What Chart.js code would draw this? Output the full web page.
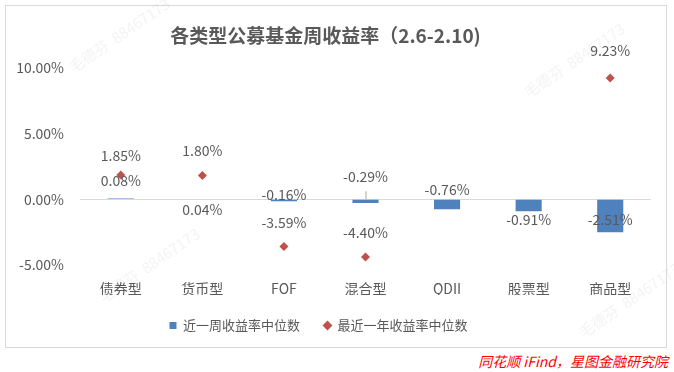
<!DOCTYPE html>
<html>
<head>
<meta charset="utf-8">
<script src="https://cdn.jsdelivr.net/npm/chart.js@4.4.1/dist/chart.umd.min.js"></script>
<style>
  body { margin: 0; background: #fff; width: 674px; height: 372px; position: relative; overflow: hidden; }
  #box { position: absolute; left: 5px; top: 5px; width: 662px; height: 343px; border: 1px solid #d9d9d9; box-sizing: border-box; }
  #wrap { position: absolute; left: 0; top: 0; width: 674px; height: 350px; }
  #src { position: absolute; right: 6px; top: 351px; color: #ff0000; font-style: italic; font-size: 14px;
         font-family: "Noto Sans CJK SC", sans-serif; line-height: 20px; }
</style>
</head>
<body>
<div id="box"></div>
<div id="wrap"><canvas id="fundChart"></canvas></div>
<div id="src">同花顺 iFind，星图金融研究院</div>
<script>
// 各类型公募基金周收益率 (2.6-2.10)
var categories = ['债券型', '货币型', 'FOF', '混合型', 'QDII', '股票型', '商品型'];
var weekMedian = [0.08, 0.04, -0.16, -0.29, -0.76, -0.91, -2.51];   // 近一周收益率中位数
var yearMedian = [1.85, 1.80, -3.59, -4.40, null, null, 9.23];     // 最近一年收益率中位数
var yTicks = [-5, 0, 5, 10];

// label offsets (px, from the mark's end) as placed in the original
var weekLabelDy = [-18, 11, -7, -26, -20, 8, -13];
var yearLabelDy = [-19, -25, -24, -24, 0, 0, -27];

var textColor = '#595959';
var font = '"Noto Sans CJK SC", "Noto Sans", sans-serif';

function pct(v) { return v.toFixed(2) + '%'; }

var watermark = {
    id: 'watermark',
    beforeDraw: function (chart) {
        var c = chart.ctx;
        var spots = [[120, 35], [575, 60], [150, 265], [630, 300]];
        c.save();
        c.fillStyle = 'rgba(150,150,150,0.11)';
        c.font = '15px ' + font;
        spots.forEach(function (p) {
            c.save();
            c.translate(p[0], p[1]);
            c.rotate(-0.6);
            c.fillText('毛德芬  88467173', -60, 0);
            c.restore();
        });
        c.restore();
    }
};

// nudge the legend a little left, like the original
var legendShift = {
    id: 'legendShift',
    afterLayout: function (chart) {
        chart.legend.left -= 7;
        chart.legend.right -= 7;
    }
};

var valueLabels = {
    id: 'valueLabels',
    afterDatasetsDraw: function (chart) {
        var c = chart.ctx;
        c.save();
        c.font = '14px ' + font;
        c.fillStyle = textColor;
        c.textAlign = 'center';
        c.textBaseline = 'middle';
        var zeroY = chart.scales.y.getPixelForValue(0);
        chart.getDatasetMeta(0).data.forEach(function (el, i) {
            var y = el.y + weekLabelDy[i];
            // leader line when the label floats away from a negative bar
            if (weekMedian[i] < 0 && zeroY - (y + 7) > 8) {
                c.strokeStyle = '#a6a6a6';
                c.lineWidth = 1;
                c.beginPath();
                c.moveTo(el.x + 0.5, zeroY - 8);
                c.lineTo(el.x + 0.5, zeroY);
                c.stroke();
            }
            c.fillText(pct(weekMedian[i]), el.x, y);
        });
        chart.getDatasetMeta(1).data.forEach(function (el, i) {
            if (yearMedian[i] === null) return;
            c.fillText(pct(yearMedian[i]), el.x, el.y + yearLabelDy[i]);
        });
        c.restore();
    }
};

var ctx = document.getElementById('fundChart').getContext('2d');
new Chart(ctx, {
    type: 'bar',
    data: {
        labels: categories,
        datasets: [{
            label: '近一周收益率中位数', data: weekMedian,
            backgroundColor: '#4f81bd', pointStyle: 'rect',
            barPercentage: 0.32, categoryPercentage: 1
        }, {
            type: 'line', label: '最近一年收益率中位数', data: yearMedian,
            showLine: false, pointStyle: 'rectRot', pointRadius: 4.5,
            backgroundColor: '#c0504d', borderColor: '#c0504d', borderWidth: 0
        }]
    },
    options: {
        responsive: true, maintainAspectRatio: false, animation: false,
        layout: { padding: { left: 0, right: 23, top: 0, bottom: 8 } },
        plugins: {
            title: {
                display: true, text: '各类型公募基金周收益率（2.6-2.10)',
                color: textColor, font: { family: font, size: 19, weight: 'bold' },
                padding: { top: 24, bottom: 21 }
            },
            legend: {
                position: 'bottom',
                labels: {
                    usePointStyle: true, boxWidth: 7, boxHeight: 7, padding: 24,
                    color: textColor, font: { family: font, size: 13 }
                }
            },
            tooltip: { enabled: false }
        },
        scales: {
            x: {
                grid: { display: false, drawTicks: false }, border: { display: false },
                afterFit: function (axis) { axis.height = 30; },
                ticks: { color: textColor, font: { family: font, size: 14 }, padding: 15 }
            },
            y: {
                min: -5, max: 10,
                afterBuildTicks: function (axis) { axis.ticks = yTicks.map(function (v) { return { value: v }; }); },
                afterFit: function (axis) { axis.width = 80; },
                border: { display: false },
                grid: {
                    drawTicks: false,
                    color: function (c) { return c.tick && c.tick.value === 0 ? '#d9d9d9' : 'rgba(0,0,0,0)'; }
                },
                ticks: { color: textColor, font: { family: font, size: 14 }, padding: 16, callback: function (v) { return pct(v); } }
            }
        }
    },
    plugins: [watermark, legendShift, valueLabels]
});
</script>
</body>
</html>
